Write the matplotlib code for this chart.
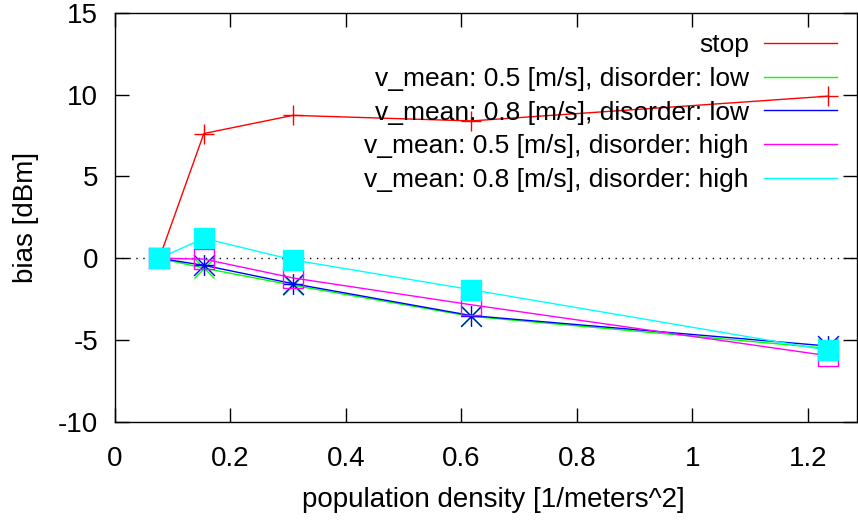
import matplotlib
matplotlib.use("Agg")
import matplotlib.pyplot as plt
from matplotlib.lines import Line2D
from matplotlib.path import Path

plt.rcParams["font.family"] = ["Liberation Sans", "DejaVu Sans"]
plt.rcParams["axes.unicode_minus"] = False

# population density [1/m^2]
density = [0.0772, 0.1543, 0.3086, 0.6173, 1.2346]

bias_stop = [0.0, 7.62, 8.73, 8.39, 9.9]
bias_05_low = [0.0, -0.6, -1.65, -3.55, -5.5]
bias_08_low = [0.0, -0.43, -1.55, -3.5, -5.36]
bias_05_high = [0.0, -0.05, -1.2, -2.84, -5.95]
bias_08_high = [0.0, 1.22, -0.1, -1.92, -5.62]

labels = [
    "stop",
    "v_mean: 0.5 [m/s], disorder: low",
    "v_mean: 0.8 [m/s], disorder: low",
    "v_mean: 0.5 [m/s], disorder: high",
    "v_mean: 0.8 [m/s], disorder: high",
]
colors = ["#ff0000", "#00ff00", "#0000ff", "#ff00ff", "#00ffff"]

xticks = [0, 0.2, 0.4, 0.6, 0.8, 1, 1.2]
xtick_labels = ["0", "0.2", "0.4", "0.6", "0.8", "1", "1.2"]
yticks = [-10, -5, 0, 5, 10, 15]

# gnuplot-style star: plus and cross combined
star = Path(
    [(-1, 0), (1, 0), (0, -1), (0, 1), (-1, -1), (1, 1), (-1, 1), (1, -1)],
    [Path.MOVETO, Path.LINETO] * 4,
)

fig = plt.figure(figsize=(8.58, 5.27), dpi=100)
ax = fig.add_axes([114.7 / 858, 1 - 422 / 527, (857 - 114.7) / 858, (422 - 12.7) / 527])

ax.axhline(0, color="black", lw=1.0, ls=(0, (1, 4)), zorder=1)

series = [bias_stop, bias_05_low, bias_08_low, bias_05_high, bias_08_high]
markers = ["+", "x", star, "s", "s"]
for vals, c, m in zip(series, colors, markers):
    filled = c == "#00ffff"
    ax.plot(
        density, vals, color=c, lw=1.0, marker=m, markersize=15,
        markeredgewidth=1.0,
        markerfacecolor=c if filled else "none", markeredgecolor=c,
        zorder=2,
    )

ax.set_xlim(0, 1.285)
ax.set_ylim(-10, 15)
ax.set_xticks(xticks)
ax.set_xticklabels(xtick_labels)
ax.set_yticks(yticks)
ax.tick_params(direction="in", top=True, right=True, length=10, width=1,
               labelsize=20)
ax.tick_params(axis="x", pad=17)
ax.tick_params(axis="y", pad=12)
for s in ax.spines.values():
    s.set_linewidth(1.0)

fig.text(26 / 858, 1 - 217 / 527, "bias [dBm]", rotation=90, ha="center",
         va="center", fontsize=20)
fig.text(493 / 858, 1 - 500 / 527, "population density [1/meters^2]",
         ha="center", va="center", fontsize=20)

handles = [Line2D([], [], color=c, lw=1.0) for c in colors]
leg = ax.legend(
    handles, labels, loc="upper right",
    bbox_to_anchor=(837 / 858, 1 - 33 / 527), bbox_transform=fig.transFigure,
    frameon=False, markerfirst=False, fontsize=19, borderpad=0,
    borderaxespad=0, handlelength=2.77, handletextpad=0.57, labelspacing=0.37,
)

fig.savefig("out.png", dpi=100)
